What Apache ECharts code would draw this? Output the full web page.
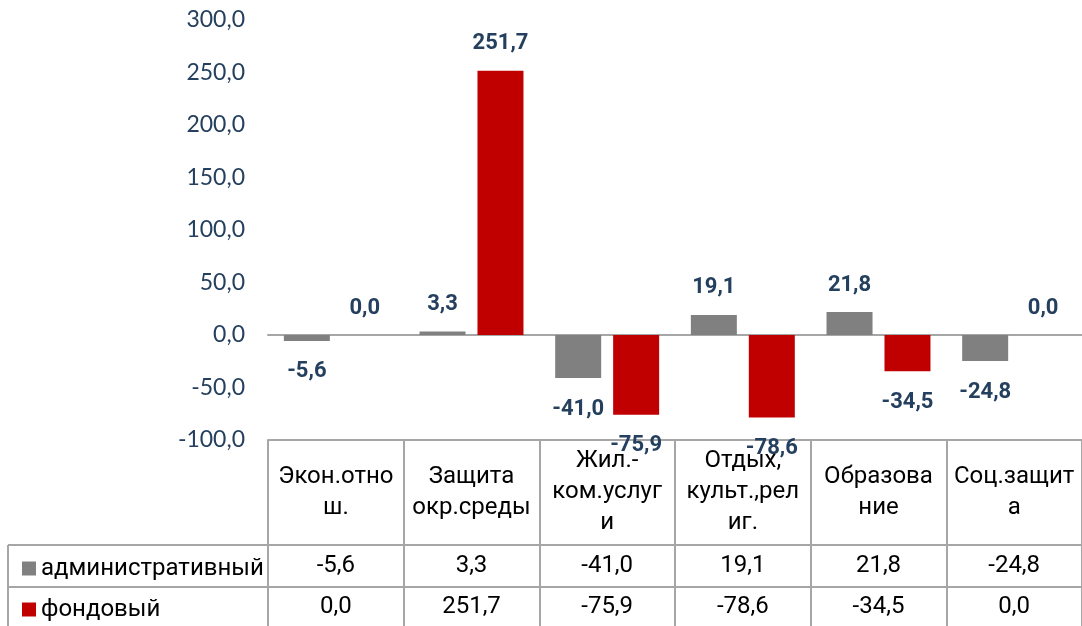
<!DOCTYPE html>
<html><head><meta charset="utf-8">
<script src="https://cdn.jsdelivr.net/npm/echarts@6/dist/echarts.min.js"></script>
<style>html,body{margin:0;padding:0;background:#fff}#c{width:1082px;height:626px}</style>
</head><body><div id="c"></div>
<script>
// ---- data ----
const categories = ['Экон.отно\nш.', 'Защита\nокр.среды', 'Жил.-\nком.услуг\nи', 'Отдых,\nкульт.,рел\nиг.', 'Образова\nние', 'Соц.защит\nа'];
const seriesNames = ['административный', 'фондовый'];
const adminValues = [-5.6, 3.3, -41.0, 19.1, 21.8, -24.8];
const fundValues = [0.0, 251.7, -75.9, -78.6, -34.5, 0.0];
const yMin = -100, yMax = 300, yInterval = 50;

// ---- style ----
const GRAY = '#808080', RED = '#C00000', LINE = '#A6A6A6', NAVY = '#25405E';
const fmt = v => v.toFixed(1).replace('.', ',');
const TFONT = 'Roboto';

const labelStyle = {
  show: true, formatter: p => fmt(p.value), fontFamily: TFONT, fontWeight: 'bold',
  fontSize: 22, color: NAVY, distance: 16
};
const toItems = vals => vals.map(v => ({ value: v, label: v < 0 ? { position: 'bottom', distance: 20 } : { position: 'top' } }));
const legendBase = {
  orient: 'vertical', left: 17, itemWidth: 14, itemHeight: 14,
  icon: 'rect', selectedMode: false,
  textStyle: { fontFamily: TFONT, fontSize: 24, color: '#000', lineHeight: 27 }
};

const chart = echarts.init(document.getElementById('c'), null, { renderer: 'canvas' });
chart.setOption({
  animation: false,
  backgroundColor: '#fff',
  grid: { left: 268, right: -6, top: 20, bottom: 186, containLabel: false },
  legend: [
    Object.assign({}, legendBase, { top: 550, data: [seriesNames[0]] }),
    Object.assign({}, legendBase, { top: 591, data: [seriesNames[1]] })
  ],
  xAxis: [
    { // category row of the table
      type: 'category', data: categories, position: 'bottom',
      axisLine: { onZero: false, lineStyle: { color: LINE, width: 2 } },
      axisTick: { show: true, interval: 0, length: 186, lineStyle: { color: LINE, width: 2 } },
      axisLabel: { interval: 0, margin: 52, verticalAlign: 'middle', fontFamily: TFONT, fontSize: 24, lineHeight: 31, color: '#000' }
    },
    { // zero line
      type: 'category', data: categories, position: 'bottom',
      axisLine: { onZero: true, lineStyle: { color: LINE, width: 2 } },
      axisTick: { show: false }, axisLabel: { show: false }
    },
    { // admin values row
      type: 'category', data: adminValues.map(fmt), position: 'bottom', offset: 105,
      axisLine: { onZero: false, lineStyle: { color: LINE, width: 2 } },
      axisTick: { show: false },
      axisLabel: { interval: 0, margin: 21, verticalAlign: 'middle', fontFamily: TFONT, fontSize: 24, color: '#000' }
    },
    { // fund values row
      type: 'category', data: fundValues.map(fmt), position: 'bottom', offset: 147,
      axisLine: { onZero: false, lineStyle: { color: LINE, width: 2 } },
      axisTick: { show: false },
      axisLabel: { interval: 0, margin: 20, verticalAlign: 'middle', fontFamily: TFONT, fontSize: 24, color: '#000' }
    }
  ],
  yAxis: {
    type: 'value', min: yMin, max: yMax, interval: yInterval,
    axisLine: { show: false }, axisTick: { show: false }, splitLine: { show: false },
    axisLabel: { formatter: v => fmt(v), fontFamily: 'Lato', fontSize: 23, color: NAVY, margin: 23 }
  },
  graphic: [
    { type: 'line', shape: { x1: 8, y1: 545, x2: 268, y2: 545 }, style: { stroke: LINE, lineWidth: 2 } },
    { type: 'line', shape: { x1: 8, y1: 587, x2: 268, y2: 587 }, style: { stroke: LINE, lineWidth: 2 } },
    { type: 'line', shape: { x1: 8, y1: 545, x2: 8, y2: 626 }, style: { stroke: LINE, lineWidth: 2 } }
  ],
  series: [
    { name: seriesNames[0], type: 'bar', xAxisIndex: 0, barWidth: 46, barGap: '26%',
      itemStyle: { color: GRAY }, label: labelStyle, data: toItems(adminValues), z: 3 },
    { name: seriesNames[1], type: 'bar', xAxisIndex: 0, barWidth: 46, barGap: '26%',
      itemStyle: { color: RED }, label: labelStyle, data: toItems(fundValues), z: 3 }
  ]
});
</script></body></html>
